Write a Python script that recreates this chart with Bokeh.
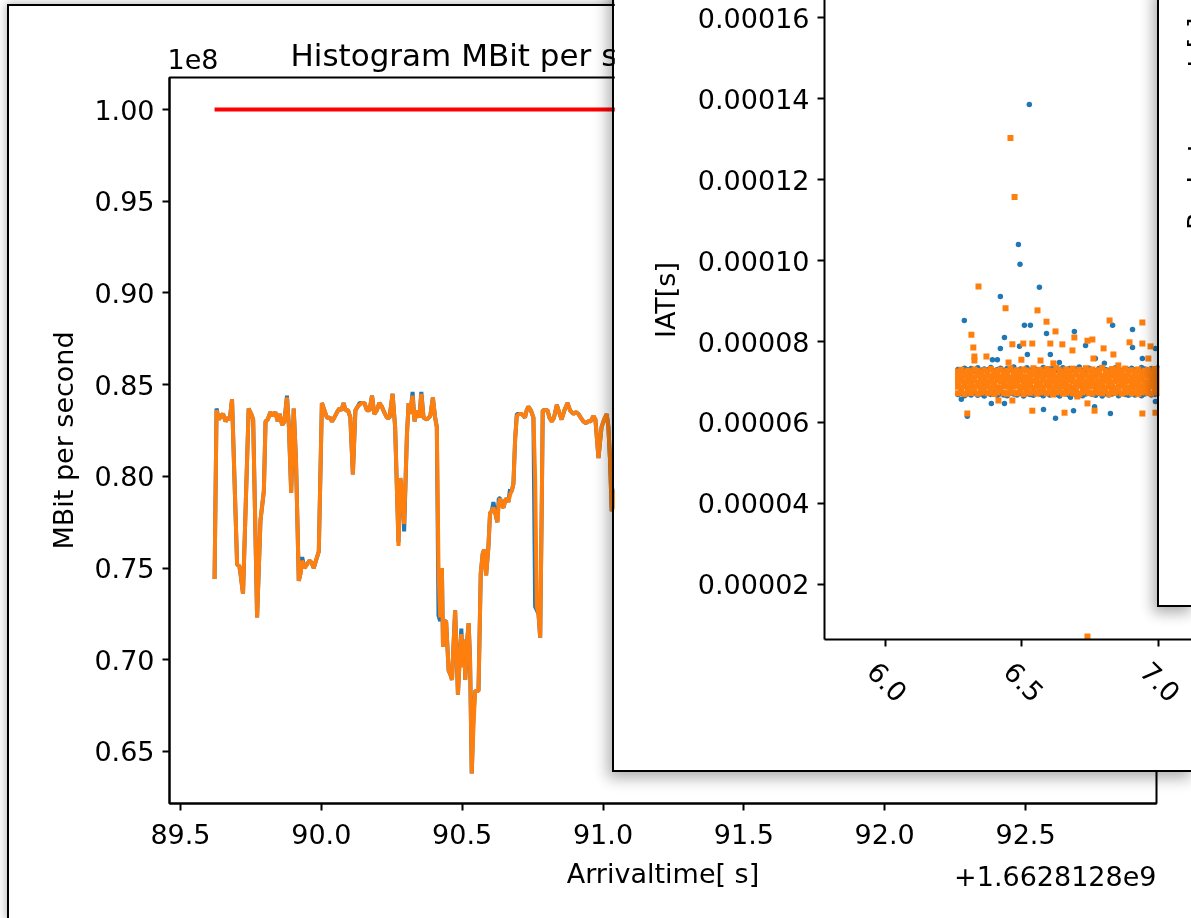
import math
from bokeh.plotting import figure
from bokeh.models import (Range1d, FixedTicker, PrintfTickFormatter, ColumnDataSource,
                          LinearAxis, CustomJSTickFormatter)
from bokeh.embed import file_html
from bokeh.resources import INLINE
from bokeh.core.properties import value

FONT = "DejaVu Sans"
FS = "27px"

# ---------------- Panel 1: MBit per second over arrival time (x offset +1.6628128e9, y in 1e8) ----
arrival = [
    89.621, 89.628, 89.636, 89.644, 89.651, 89.660, 89.668, 89.675, 89.683, 89.701,
    89.709, 89.713, 89.722, 89.742, 89.751, 89.758, 89.772, 89.784, 89.796, 89.802,
    89.810, 89.819, 89.829, 89.837, 89.845, 89.852, 89.861, 89.869, 89.878, 89.885,
    89.893, 89.902, 89.910, 89.920, 89.926, 89.932, 89.940, 89.949, 89.958, 89.965,
    89.973, 89.981, 89.991, 90.002, 90.011, 90.020, 90.030, 90.038, 90.046, 90.056,
    90.064, 90.071, 90.079, 90.086, 90.095, 90.103, 90.112, 90.121, 90.129, 90.136,
    90.144, 90.153, 90.162, 90.171, 90.180, 90.188, 90.197, 90.206, 90.215, 90.223,
    90.233, 90.242, 90.253, 90.262, 90.274, 90.280, 90.286, 90.294, 90.304, 90.310,
    90.316, 90.324, 90.331, 90.339, 90.348, 90.355, 90.363, 90.375, 90.387, 90.396,
    90.404, 90.410, 90.416, 90.422, 90.428, 90.432, 90.436, 90.443, 90.452, 90.458,
    90.464, 90.469, 90.475, 90.481, 90.485, 90.491, 90.497, 90.503, 90.507, 90.511,
    90.517, 90.523, 90.528, 90.534, 90.540, 90.546, 90.558, 90.566, 90.573, 90.578,
    90.585, 90.593, 90.599, 90.605, 90.611, 90.619, 90.625, 90.630, 90.635, 90.641,
    90.647, 90.653, 90.658, 90.664, 90.670, 90.676, 90.682, 90.688, 90.694, 90.703,
    90.712, 90.718, 90.723, 90.729, 90.735, 90.744, 90.753, 90.759, 90.765, 90.771,
    90.777, 90.783, 90.786, 90.794, 90.803, 90.810, 90.818, 90.826, 90.836, 90.844,
    90.853, 90.863, 90.874, 90.883, 90.895, 90.904, 90.913, 90.921, 90.930, 90.939,
    90.948, 90.956, 90.966, 90.973, 90.984, 90.989, 90.995, 91.004, 91.013, 91.019,
    91.025, 91.031,
    91.06, 91.10, 91.20, 91.30, 91.40, 91.50, 91.55, 91.70, 91.85, 92.00,
    92.15, 92.25, 92.40, 92.55, 92.70, 92.80,
]
mbit_a = [  # blue series
    .744, .837, .831, .833, .834, .830, .832, .831, .842, .752,
    .751, .747, .736, .837, .834, .831, .723, .776, .792, .830,
    .831, .835, .833, .835, .830, .834, .828, .830, .844, .827,
    .791, .837, .809, .743, .747, .756, .750, .752, .754, .753,
    .750, .754, .759, .840, .836, .832, .832, .830, .832, .835,
    .837, .836, .840, .836, .836, .832, .801, .836, .838, .840,
    .840, .840, .836, .836, .844, .834, .836, .840, .838, .835,
    .832, .832, .845, .827, .764, .799, .794, .770, .823, .840,
    .834, .846, .830, .836, .832, .846, .832, .831, .833, .843,
    .832, .827, .724, .721, .750, .707, .721, .721, .694, .692,
    .689, .707, .727, .700, .681, .700, .717, .696, .711, .689,
    .709, .720, .700, .638, .670, .683, .683, .747, .758, .760,
    .746, .761, .780, .781, .786, .779, .775, .788, .788, .784,
    .783, .787, .788, .786, .793, .792, .796, .820, .834, .834,
    .834, .833, .832, .836, .838, .836, .832, .729, .727, .725,
    .712, .790, .836, .836, .836, .832, .830, .832, .839, .835,
    .831, .836, .840, .836, .834, .835, .834, .832, .830, .829,
    .830, .830, .833, .831, .810, .818, .827, .831, .834, .827,
    .809, .781,
    .801, .833, .835, .829, .836, .792, .834, .837, .831, .835,
    .801, .834, .838, .830, .835, .821,
]
mbit_b = [  # orange series
    .744, .836, .831, .833, .834, .830, .832, .831, .842, .752,
    .751, .747, .736, .837, .834, .831, .723, .776, .792, .830,
    .831, .835, .833, .835, .830, .834, .828, .830, .843, .827,
    .791, .837, .809, .743, .747, .754, .750, .752, .754, .753,
    .750, .754, .759, .840, .836, .832, .832, .830, .832, .835,
    .837, .836, .840, .836, .836, .832, .801, .836, .838, .839,
    .840, .840, .836, .836, .844, .834, .836, .840, .838, .835,
    .832, .832, .845, .827, .762, .799, .794, .774, .823, .840,
    .834, .844, .830, .836, .832, .845, .832, .831, .833, .843,
    .832, .827, .750, .723, .750, .707, .721, .721, .694, .692,
    .689, .707, .727, .700, .681, .700, .714, .696, .711, .689,
    .709, .720, .700, .638, .663, .683, .683, .747, .758, .760,
    .746, .761, .780, .781, .783, .779, .775, .785, .788, .784,
    .783, .787, .788, .786, .790, .792, .796, .820, .833, .834,
    .834, .833, .832, .836, .838, .836, .832, .800, .729, .725,
    .712, .790, .836, .836, .836, .832, .830, .832, .839, .835,
    .831, .836, .840, .836, .834, .835, .834, .832, .830, .829,
    .830, .830, .833, .831, .810, .818, .827, .831, .834, .827,
    .809, .781,
    .800, .832, .835, .828, .836, .790, .834, .837, .830, .835,
    .800, .834, .838, .830, .835, .820,
]
link_capacity = 1.00  # 1e8 bit/s reference line

n = min(len(arrival), len(mbit_a), len(mbit_b))
arrival, mbit_a, mbit_b = arrival[:n], mbit_a[:n], mbit_b[:n]

# ---------------- Panel 2: IAT scatter (values read in units of 1e-5 s) ----------------
band_t = [
    6.266, 6.278, 6.290, 6.302, 6.314, 6.326, 6.338, 6.350, 6.362, 6.374,
    6.386, 6.398, 6.410, 6.422, 6.434, 6.446, 6.458, 6.470, 6.482, 6.494,
    6.506, 6.518, 6.530, 6.542, 6.554, 6.566, 6.578, 6.590, 6.602, 6.614,
    6.626, 6.638, 6.650, 6.662, 6.674, 6.686, 6.698, 6.710, 6.722, 6.734,
    6.746, 6.758, 6.770, 6.782, 6.794, 6.806, 6.818, 6.830, 6.842, 6.854,
    6.866, 6.878, 6.890, 6.902, 6.914, 6.926, 6.938, 6.950, 6.962, 6.974,
    6.986, 6.998,
]
band_b_low = [
    6.69, 6.72, 6.66, 6.71, 6.68, 6.73, 6.67, 6.70, 6.65, 6.72, 6.69, 6.74, 6.67, 6.71, 6.68, 6.66,
    6.73, 6.70, 6.68, 6.72, 6.65, 6.71, 6.69, 6.67, 6.73, 6.70, 6.66, 6.72, 6.68, 6.71, 6.69, 6.65,
    6.73, 6.70, 6.67, 6.72, 6.68, 6.71, 6.66, 6.70, 6.73, 6.69, 6.67, 6.72, 6.65, 6.71, 6.68, 6.70,
    6.73, 6.66, 6.72, 6.69, 6.67, 6.71, 6.68, 6.74, 6.66, 6.70, 6.72, 6.68, 6.69, 6.71,
]
band_b_high = [
    7.31, 7.28, 7.34, 7.30, 7.33, 7.27, 7.35, 7.29, 7.32, 7.30, 7.36, 7.28, 7.31, 7.34, 7.29, 7.33,
    7.30, 7.37, 7.28, 7.32, 7.30, 7.35, 7.29, 7.33, 7.31, 7.28, 7.36, 7.30, 7.32, 7.34, 7.29, 7.31,
    7.35, 7.28, 7.33, 7.30, 7.32, 7.37, 7.29, 7.31, 7.34, 7.30, 7.28, 7.33, 7.36, 7.31, 7.29, 7.32,
    7.35, 7.30, 7.28, 7.33, 7.31, 7.34, 7.30, 7.29, 7.36, 7.32, 7.30, 7.33, 7.31, 7.35,
]
band_o1 = [
    6.72, 6.75, 6.70, 6.76, 6.73, 6.78, 6.71, 6.74, 6.77, 6.72, 6.75, 6.70, 6.74, 6.79, 6.73, 6.71,
    6.76, 6.74, 6.72, 6.77, 6.70, 6.75, 6.73, 6.78, 6.71, 6.74, 6.76, 6.72, 6.75, 6.69, 6.74, 6.77,
    6.71, 6.73, 6.76, 6.72, 6.75, 6.70, 6.74, 6.78, 6.73, 6.71, 6.76, 6.74, 6.72, 6.77, 6.70, 6.75,
    6.73, 6.78, 6.71, 6.74, 6.76, 6.72, 6.75, 6.70, 6.74, 6.77, 6.73, 6.71, 6.76, 6.74,
]
band_o2 = [
    6.88, 6.86, 6.90, 6.85, 6.89, 6.87, 6.91, 6.86, 6.88, 6.90, 6.85, 6.89, 6.87, 6.86, 6.90, 6.88,
    6.85, 6.89, 6.91, 6.87, 6.86, 6.88, 6.90, 6.85, 6.89, 6.87, 6.86, 6.91, 6.88, 6.85, 6.89, 6.87,
    6.90, 6.86, 6.88, 6.85, 6.89, 6.91, 6.87, 6.86, 6.88, 6.90, 6.85, 6.89, 6.87, 6.86, 6.90, 6.88,
    6.85, 6.89, 6.91, 6.87, 6.86, 6.88, 6.90, 6.85, 6.89, 6.87, 6.86, 6.90, 6.88, 6.85,
]
band_o3 = [
    7.01, 7.03, 6.99, 7.02, 7.00, 7.04, 6.98, 7.01, 7.03, 7.00, 7.02, 6.99, 7.04, 7.01, 7.00, 7.03,
    6.98, 7.02, 7.01, 7.04, 7.00, 6.99, 7.02, 7.03, 7.01, 6.98, 7.04, 7.00, 7.02, 7.01, 6.99, 7.03,
    7.02, 7.00, 7.04, 7.01, 6.98, 7.03, 7.02, 7.00, 7.01, 7.04, 6.99, 7.02, 7.00, 7.03, 7.01, 6.98,
    7.02, 7.04, 7.00, 7.01, 7.03, 6.99, 7.02, 7.00, 7.04, 7.01, 6.98, 7.03, 7.02, 7.00,
]
band_o4 = [
    7.14, 7.12, 7.16, 7.13, 7.15, 7.11, 7.17, 7.14, 7.12, 7.16, 7.13, 7.15, 7.18, 7.12, 7.14, 7.16,
    7.11, 7.15, 7.13, 7.17, 7.14, 7.12, 7.16, 7.19, 7.13, 7.15, 7.12, 7.17, 7.14, 7.16, 7.13, 7.18,
    7.15, 7.12, 7.16, 7.14, 7.19, 7.13, 7.15, 7.17, 7.12, 7.16, 7.14, 7.18, 7.13, 7.15, 7.12, 7.17,
    7.14, 7.16, 7.13, 7.15, 7.18, 7.12, 7.16, 7.14, 7.13, 7.17, 7.15, 7.12, 7.16, 7.14,
]
band_o5 = [
    7.26, 7.30, 7.24, 7.28, 7.25, 7.31, 7.27, 7.24, 7.29, 7.26, 7.32, 7.25, 7.28, 7.30, 7.24, 7.27,
    7.33, 7.26, 7.29, 7.25, 7.31, 7.28, 7.24, 7.34, 7.27, 7.30, 7.25, 7.32, 7.28, 7.26, 7.35, 7.29,
    7.24, 7.31, 7.27, 7.33, 7.26, 7.30, 7.25, 7.34, 7.28, 7.31, 7.26, 7.29, 7.35, 7.27, 7.24, 7.32,
    7.28, 7.30, 7.25, 7.33, 7.27, 7.29, 7.26, 7.31, 7.24, 7.28, 7.30, 7.26, 7.32, 7.27,
]
out_b_t = [6.527, 6.487, 6.493, 6.421, 6.564, 6.289, 6.531, 6.509, 6.832, 6.436, 6.590, 6.692, 6.905,
           6.421, 6.491, 6.392, 6.410, 6.520, 6.604, 6.637, 6.733, 6.769, 6.802, 6.905, 6.941, 6.989,
           6.278, 6.300, 6.388, 6.436, 6.579, 6.623, 6.689, 6.678, 6.766, 6.824, 6.989]
out_b_v = [13.86, 10.40, 9.91, 9.11, 9.34, 8.52, 8.40, 8.40, 8.40, 8.10, 8.20, 8.25, 8.30,
           7.83, 7.88, 7.55, 7.55, 7.68, 7.68, 7.48, 7.90, 7.58, 7.46, 7.85, 7.58, 7.83,
           6.57, 6.15, 6.47, 6.47, 6.32, 6.10, 6.29, 6.62, 6.39, 6.22, 6.52]
out_o_t = [6.458, 6.473, 6.341, 6.440, 6.557, 6.590, 6.821, 6.941, 6.315, 6.623, 6.692, 6.322, 6.326,
           6.326, 6.465, 6.505, 6.538, 6.604, 6.648, 6.740, 6.758, 6.799, 6.835, 6.894, 6.941, 6.971,
           6.370, 6.451, 6.498, 6.568, 6.615, 6.685, 6.762, 6.853, 6.963, 6.300, 6.414, 6.465, 6.538,
           6.656, 6.703, 6.740, 6.766, 6.941, 6.989, 6.740]
out_o_v = [13.03, 11.57, 9.36, 8.82, 8.77, 8.49, 8.52, 8.47, 8.17, 8.25, 8.10, 7.85, 7.53,
           7.63, 7.93, 7.95, 7.95, 7.95, 7.93, 8.02, 8.05, 7.83, 7.68, 7.98, 7.95, 7.88,
           7.63, 7.48, 7.55, 7.53, 7.46, 7.78, 7.58, 7.41, 7.58, 6.22, 6.54, 6.54, 6.29,
           6.24, 6.64, 6.47, 6.29, 6.22, 6.24, 0.71]
IAT_UNIT = 1e-5

iat_ticks = [0.00002, 0.00004, 0.00006, 0.00008, 0.00010, 0.00012, 0.00014, 0.00016]
time_ticks = [6.0, 6.5, 7.0]
mbit_ticks = [0.65, 0.70, 0.75, 0.80, 0.85, 0.90, 0.95, 1.00]
arrival_ticks = [89.5, 90.0, 90.5, 91.0, 91.5, 92.0, 92.5]

BLUE = "#1f77b4"
ORANGE = "#ff7f0e"


def style_axis(ax, size=FS):
    ax.axis_line_color = "black"
    ax.axis_line_width = 2
    ax.major_tick_line_color = "black"
    ax.major_tick_line_width = 2
    ax.major_tick_out = 7
    ax.major_tick_in = 0
    ax.minor_tick_line_color = None
    ax.major_label_text_font = FONT
    ax.major_label_text_font_size = size
    ax.major_label_text_color = "black"
    ax.axis_label_text_font = FONT
    ax.axis_label_text_font_size = size
    ax.axis_label_text_font_style = "normal"
    ax.axis_label_text_color = "black"


def text_box(width, height, text, align, left, top, z):
    """Small transparent svg figure holding one text (range == pixels)."""
    f = figure(width=width, height=height, output_backend="svg", toolbar_location=None,
               x_range=Range1d(0, width), y_range=Range1d(0, height),
               min_border_left=0, min_border_right=0, min_border_top=0, min_border_bottom=0,
               background_fill_alpha=0, border_fill_alpha=0, outline_line_color=None)
    f.axis.visible = False
    f.grid.grid_line_color = None
    f.text(x=[0 if align == "left" else width], y=[height / 2], text=[text], text_align=align,
           text_baseline="middle", text_font=value(FONT), text_font_size=FS, text_color="black")
    f.styles = {"position": "fixed", "left": f"{left}px", "top": f"{top}px", "z-index": str(z)}
    return f


# ---------------- Figure A ----------------
pA = figure(width=1182, height=912, output_backend="svg", toolbar_location=None,
            x_range=Range1d(89.461, 92.965), y_range=Range1d(0.6216, 1.0175),
            min_border_left=160, min_border_right=35, min_border_top=71, min_border_bottom=115,
            background_fill_color="white", border_fill_color="white",
            outline_line_color="black", outline_line_width=2)
pA.grid.grid_line_color = None
pA.title.text = "Histogram MBit per second over arrival time"
pA.title.text_font = FONT
pA.title.text_font_size = "31px"
pA.title.text_font_style = "normal"
pA.title.text_color = "black"
pA.title.align = "left"
pA.title.offset = 121
pA.xaxis.ticker = FixedTicker(ticks=arrival_ticks)
pA.yaxis.ticker = FixedTicker(ticks=mbit_ticks)
pA.xaxis.formatter = PrintfTickFormatter(format="%.1f")
pA.yaxis.formatter = PrintfTickFormatter(format="%.2f")
pA.xaxis.axis_label = "Arrivaltime[ s]"
pA.yaxis.axis_label = "MBit per second"
for ax in pA.axis:
    style_axis(ax)
pA.xaxis.major_label_standoff = 13
pA.yaxis.major_label_standoff = 8
pA.yaxis.axis_label_standoff = 12
pA.xaxis.axis_label_standoff = 11

srcA = ColumnDataSource(dict(t=arrival, a=mbit_a, b=mbit_b))
pA.line([arrival[0], arrival[-1]], [link_capacity, link_capacity], color="#ff0000", line_width=4)
pA.line("t", "a", source=srcA, color=BLUE, line_width=4)
pA.line("t", "b", source=srcA, color=ORANGE, line_width=4)

# ---------------- Figure B ----------------
xr_B = (5.777, 7.121)
pB = figure(width=577, height=810, output_backend="svg", toolbar_location=None,
            x_range=Range1d(*xr_B), y_range=Range1d(0.633 * IAT_UNIT, 17.42 * IAT_UNIT),
            min_border_left=210, min_border_right=0, min_border_top=0, min_border_bottom=131,
            background_fill_color="white", border_fill_color="white", outline_line_color=None)
pB.grid.grid_line_color = None
x_main = pB.xaxis[0]
x_main.ticker = FixedTicker(ticks=time_ticks)
x_main.formatter = CustomJSTickFormatter(code="return ''")
pB.yaxis.ticker = FixedTicker(ticks=iat_ticks)
pB.yaxis.formatter = PrintfTickFormatter(format="%.5f")
pB.yaxis.axis_label = "IAT[s]"
for ax in pB.axis:
    style_axis(ax)
x_main.major_label_text_font_size = "1px"
x_main.major_label_standoff = 0
pB.yaxis.major_label_standoff = 8
pB.yaxis.axis_label_standoff = 14

# rotated tick labels, centred on their ticks like matplotlib (label axis shifted by ~13 px)
label_shift = 0.048
pB.extra_x_ranges = {"lbl": Range1d(xr_B[0] + label_shift, xr_B[1] + label_shift)}
x_lbl = LinearAxis(x_range_name="lbl", ticker=FixedTicker(ticks=time_ticks),
                   formatter=PrintfTickFormatter(format="%.1f"))
style_axis(x_lbl)
x_lbl.axis_line_color = None
x_lbl.major_tick_line_color = None
x_lbl.major_tick_out = 0
x_lbl.major_label_orientation = -math.pi / 4
x_lbl.major_label_standoff = 20
pB.add_layout(x_lbl, "below")

b_t = band_t + band_t + out_b_t
b_v = [v * IAT_UNIT for v in band_b_low + band_b_high + out_b_v]
o_t = band_t * 5 + out_o_t
o_v = [v * IAT_UNIT for v in band_o1 + band_o2 + band_o3 + band_o4 + band_o5 + out_o_v]
pB.scatter(b_t, b_v, marker="circle", size=5.5, fill_color=BLUE, line_color=None)
pB.scatter(o_t, o_v, marker="square", size=6, fill_color=ORANGE, line_color=None)

# ---------------- Figure C (edge of third window) ----------------
pC = figure(width=32, height=615, output_backend="svg", toolbar_location=None,
            x_range=Range1d(0, 32), y_range=Range1d(0, 615),
            min_border_left=0, min_border_right=0, min_border_top=0, min_border_bottom=0,
            background_fill_color="white", border_fill_color="white", outline_line_color=None)
pC.axis.visible = False
pC.grid.grid_line_color = None
pC.text(x=[22], y=[588], text=["Packet count [-]"], angle=math.pi / 2, text_align="right",
        text_baseline="top", text_font=value(FONT), text_font_size=FS, text_color="black")

pA.styles = {"position": "fixed", "left": "9px", "top": "6px", "z-index": "1",
             "outline": "2px solid black", "box-shadow": "0 0 9px 3px rgba(0,0,0,0.28)"}
pB.styles = {"position": "fixed", "left": "614px", "top": "-40px", "z-index": "3",
             "outline": "2px solid black", "box-shadow": "-3px 5px 14px 3px rgba(0,0,0,0.32)"}
pC.styles = {"position": "fixed", "left": "1159px", "top": "-10px", "z-index": "4",
             "outline": "2px solid black", "box-shadow": "-3px 5px 14px 3px rgba(0,0,0,0.32)"}

# offset texts of panel 1 (matplotlib scientific offsets)
pE1 = text_box(70, 36, "1e8", "left", 167, 40, 2)
pE2 = text_box(240, 36, "+1.6628128e9", "right", 916, 857, 2)

p = [pA, pE1, pE2, pB, pC]
open("out.html", "w").write(file_html(p, INLINE))
